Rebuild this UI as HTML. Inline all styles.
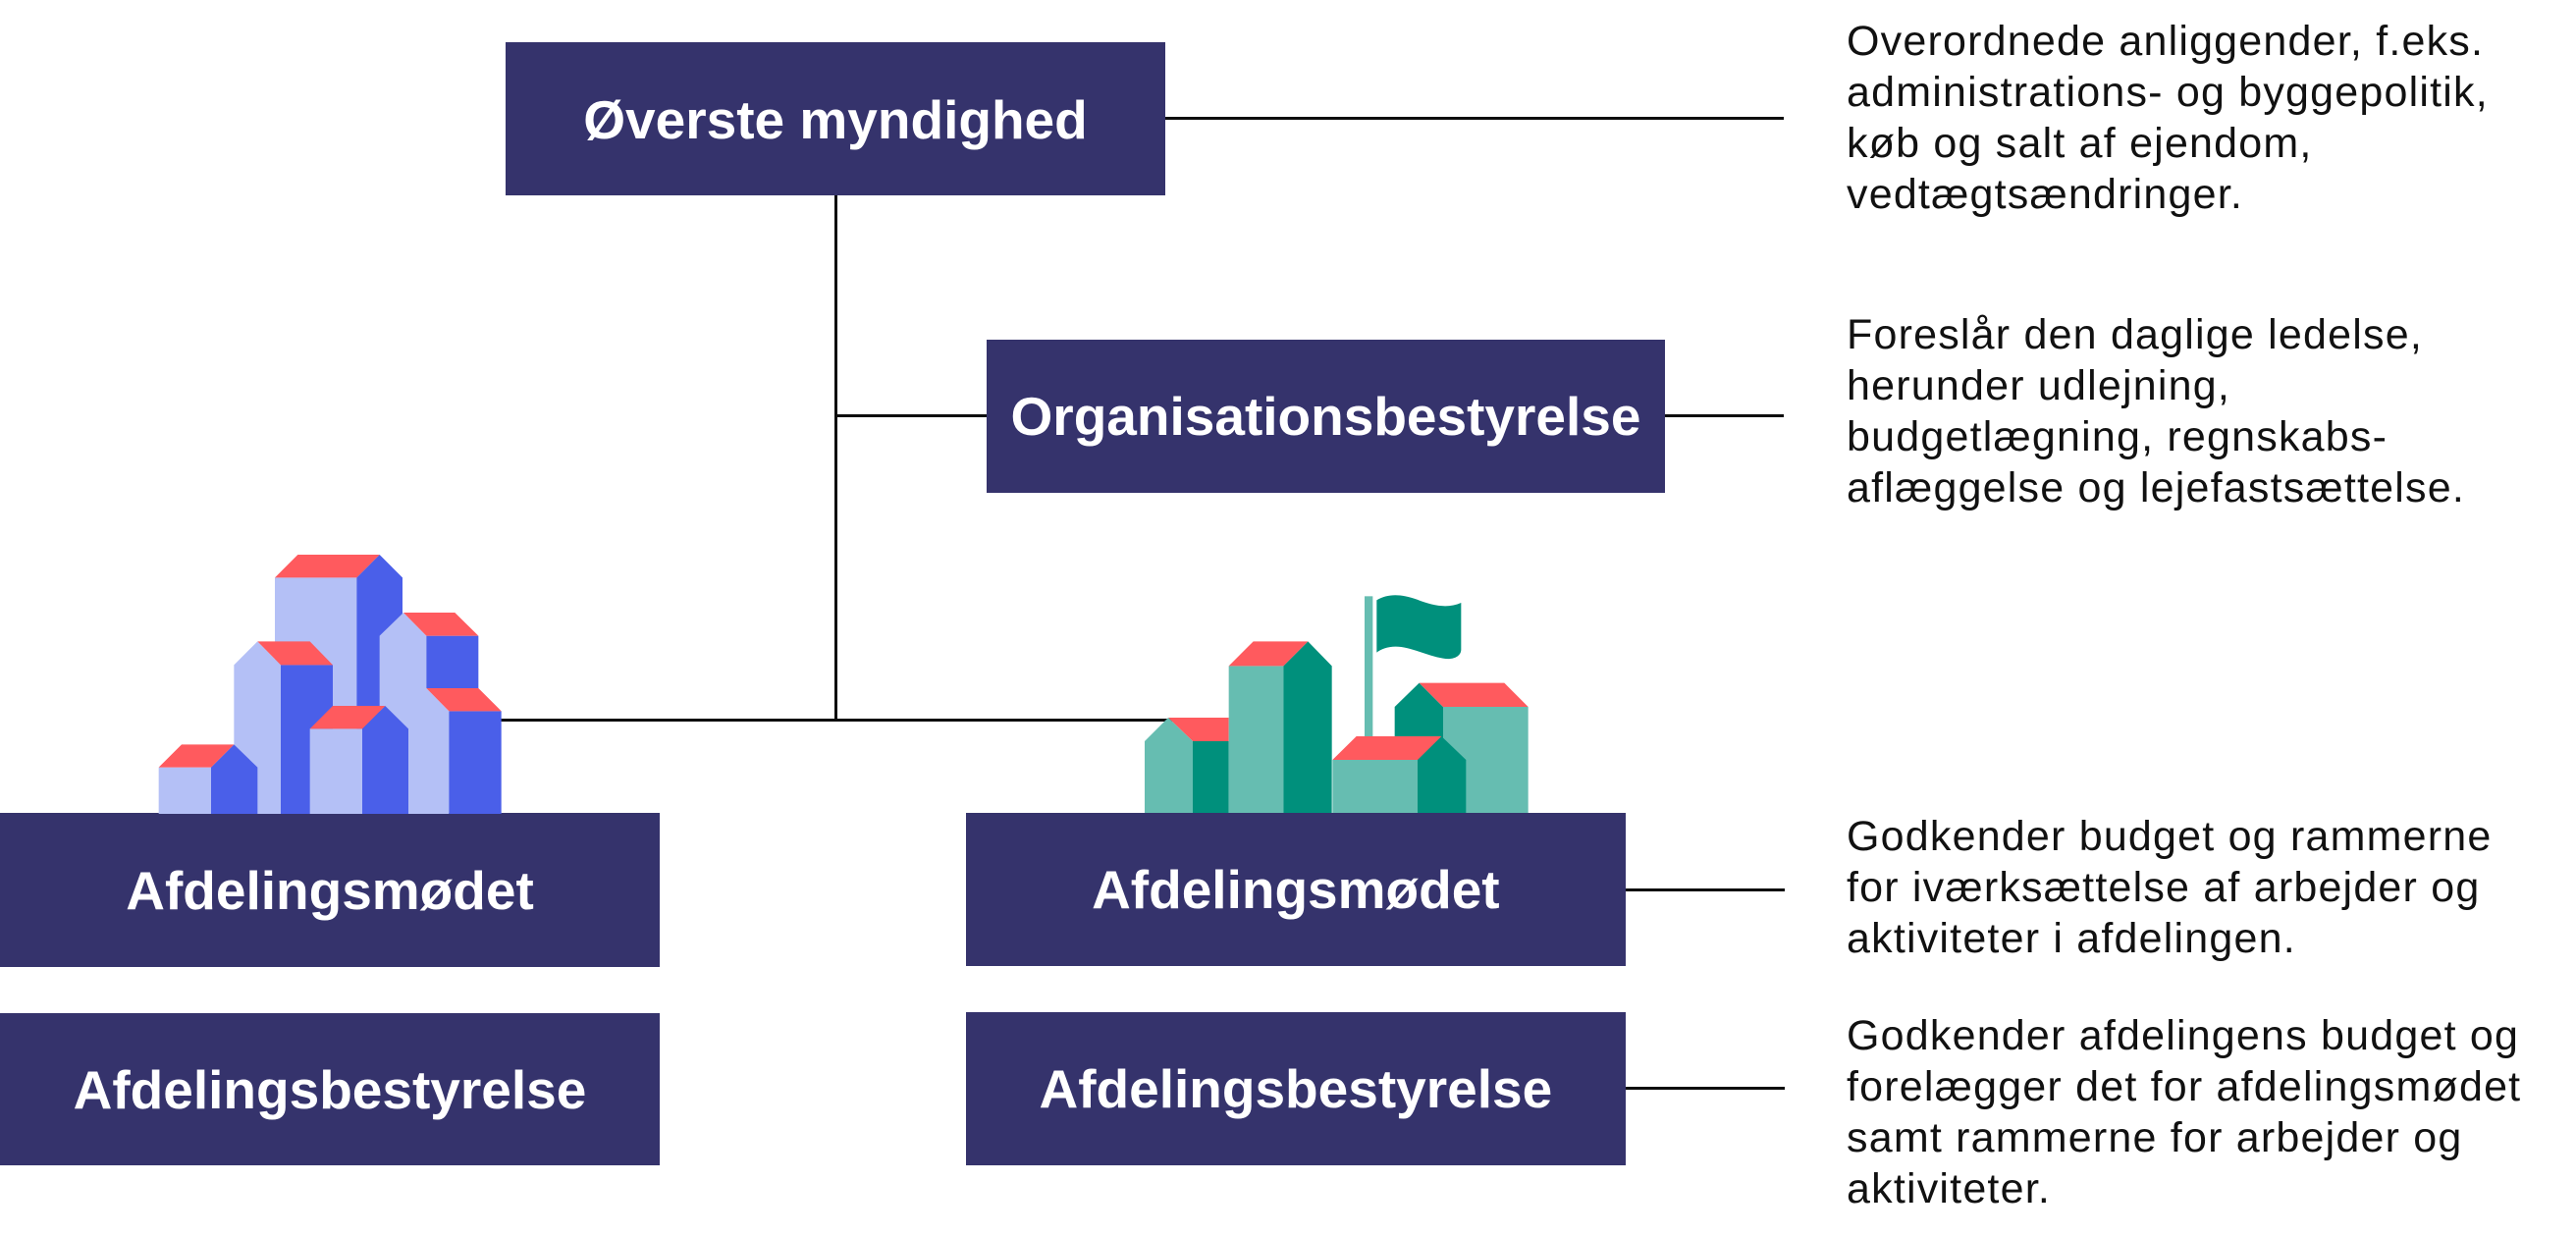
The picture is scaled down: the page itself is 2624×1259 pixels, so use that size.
<!DOCTYPE html>
<html>
<head>
<meta charset="utf-8">
<style>
  html,body{margin:0;padding:0;background:#fff;}
  #c{position:relative;width:2624px;height:1259px;overflow:hidden;background:#fff;font-family:"Liberation Sans",Arial,sans-serif;}
  .box{position:absolute;background:#35336C;color:#fff;font-weight:bold;font-size:55px;line-height:55px;display:flex;align-items:center;justify-content:center;white-space:nowrap;padding-top:2px;box-sizing:border-box;}
  .ln{position:absolute;background:#0d0d0d;}
  .txt{position:absolute;left:1881px;font-size:43px;line-height:52px;letter-spacing:1.2px;color:#111;white-space:nowrap;}
  svg{position:absolute;overflow:visible;}
</style>
</head>
<body>
<div id="c">
  <!-- connector lines -->
  <div class="ln" style="left:1187px;top:119px;width:630px;height:3px;"></div>
  <div class="ln" style="left:849.5px;top:199px;width:3px;height:536px;"></div>
  <div class="ln" style="left:851px;top:421.5px;width:155px;height:3px;"></div>
  <div class="ln" style="left:1696px;top:421.5px;width:121px;height:3px;"></div>
  <div class="ln" style="left:505px;top:732px;width:690px;height:3px;"></div>
  <div class="ln" style="left:1655px;top:904.5px;width:163px;height:3px;"></div>
  <div class="ln" style="left:1655px;top:1106.8px;width:163px;height:3px;"></div>

  <!-- boxes -->
  <div class="box" style="left:515px;top:43px;width:672px;height:156px;">Øverste myndighed</div>
  <div class="box" style="left:1005px;top:345.6px;width:691px;height:156px;">Organisationsbestyrelse</div>
  <div class="box" style="left:0px;top:828.3px;width:672px;height:156.3px;">Afdelingsmødet</div>
  <div class="box" style="left:0px;top:1031.5px;width:672px;height:155.2px;">Afdelingsbestyrelse</div>
  <div class="box" style="left:984px;top:827.7px;width:671.7px;height:156.6px;">Afdelingsmødet</div>
  <div class="box" style="left:984px;top:1030.7px;width:671.7px;height:156px;">Afdelingsbestyrelse</div>

  <!-- blue buildings -->
  <svg style="left:150px;top:560px;width:380px;height:280px;" viewBox="0 0 1140 840">
    <!-- tall back building -->
    <rect x="390" y="85" width="250" height="722" fill="#B4C0F6"/>
    <polygon points="640,85 710,15 780,85 780,807 640,807" fill="#4A5FE9"/>
    <polygon points="390,85 460,15 710,15 640,85" fill="#FF5A5E"/>
    <!-- right group -->
    <polygon points="710,263 783,192 853,263 853,423 922,493 922,807 710,807" fill="#B4C0F6"/>
    <rect x="853" y="263" width="159" height="160" fill="#4A5FE9"/>
    <rect x="922" y="493" width="160" height="314" fill="#4A5FE9"/>
    <polygon points="783,192 940,192 1012,263 853,263" fill="#FF5A5E"/>
    <polygon points="853,423 1012,423 1082,493 922,493" fill="#FF5A5E"/>
    <!-- left middle -->
    <polygon points="265,352 337,280 408,352 408,807 265,807" fill="#B4C0F6"/>
    <rect x="408" y="352" width="159" height="455" fill="#4A5FE9"/>
    <polygon points="337,280 497,280 567,352 408,352" fill="#FF5A5E"/>
    <!-- center bottom -->
    <rect x="497" y="547" width="160" height="260" fill="#B4C0F6"/>
    <polygon points="657,547 727,477 798,547 798,807 657,807" fill="#4A5FE9"/>
    <polygon points="497,547 567,477 727,477 657,547" fill="#FF5A5E"/>
    <!-- small left -->
    <rect x="35" y="665" width="160" height="142" fill="#B4C0F6"/>
    <polygon points="195,665 265,595 337,665 337,807 195,807" fill="#4A5FE9"/>
    <polygon points="35,665 105,595 265,595 195,665" fill="#FF5A5E"/>
  </svg>

  <!-- green buildings -->
  <svg style="left:1160px;top:600px;width:430px;height:240px;" viewBox="0 0 1290 720">
    <!-- left small -->
    <polygon points="90,393 275,393 275,465 165,465" fill="#FF5A5E"/>
    <polygon points="18,465 90,393 165,465 165,684 18,684" fill="#66BDB1"/>
    <rect x="165" y="465" width="110" height="219" fill="#00907C"/>
    <!-- tall -->
    <rect x="275" y="235" width="167" height="449" fill="#66BDB1"/>
    <polygon points="442,235 517,160 590,235 590,684 442,684" fill="#00907C"/>
    <polygon points="275,235 350,160 517,160 442,235" fill="#FF5A5E"/>
    <!-- flag -->
    <rect x="690" y="22" width="25" height="440" fill="#66BDB1"/>
    <path d="M727,34 C760,14 800,14 850,32 C900,52 945,60 985,42 L985,185 C985,205 962,218 930,212 C880,204 830,176 785,176 C760,176 740,184 727,194 Z" fill="#00907C"/>
    <!-- right back -->
    <polygon points="782,360 857,287 930,360 930,684 782,684" fill="#00907C"/>
    <rect x="930" y="360" width="260" height="324" fill="#66BDB1"/>
    <polygon points="857,287 1117,287 1190,360 930,360" fill="#FF5A5E"/>
    <!-- front center -->
    <rect x="592" y="522" width="260" height="162" fill="#66BDB1"/>
    <polygon points="852,522 925,450 1000,522 1000,684 852,684" fill="#00907C"/>
    <polygon points="592,522 665,450 925,450 852,522" fill="#FF5A5E"/>
  </svg>

  <!-- descriptions -->
  <div class="txt" style="top:15.6px;">Overordnede anliggender, f.eks.<br>administrations- og byggepolitik,<br>køb og salt af ejendom,<br>vedtægtsændringer.</div>
  <div class="txt" style="top:315px;">Foreslår den daglige ledelse,<br>herunder udlejning,<br>budgetlægning, regnskabs-<br>aflæggelse og lejefastsættelse.</div>
  <div class="txt" style="top:825.6px;">Godkender budget og rammerne<br>for iværksættelse af arbejder og<br>aktiviteter i afdelingen.</div>
  <div class="txt" style="top:1029px;">Godkender afdelingens budget og<br>forelægger det for afdelingsmødet<br>samt rammerne for arbejder og<br>aktiviteter.</div>
</div>
</body>
</html>
